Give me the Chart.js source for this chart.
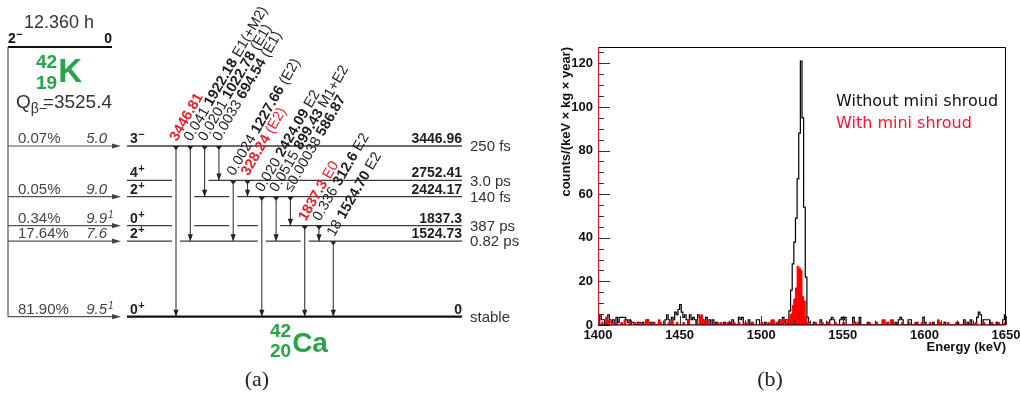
<!DOCTYPE html>
<html>
<head>
<meta charset="utf-8">
<script src="https://cdn.jsdelivr.net/npm/chart.js@4.4.1/dist/chart.umd.min.js"></script>
<style>
  body { margin: 0; width: 1020px; height: 406px; background: #fff; position: relative; overflow: hidden; }
  canvas { position: absolute; }
  #scheme { left: 0; top: 0; }
  #spectrum { left: 540px; top: 30px; }
  .cap { position: absolute; width: 100px; text-align: center; font: 22px "Liberation Serif", serif; color: #222; }
</style>
</head>
<body>
<canvas id="scheme" width="540" height="406"></canvas>
<canvas id="spectrum" width="484" height="340"></canvas>
<div class="cap" style="left:207px; top:366px">(a)</div>
<div class="cap" style="left:720px; top:366px">(b)</div>
<script>
// ---------- 42K -> 42Ca decay scheme ----------
const parentSpin = '2-';
const parentHalfLife = '12.360 h';
const qValue = '3525.4';

const levelEnergy = [0, 1524.73, 1837.3, 2424.17, 2752.41, 3446.96];
const levelLabel = ['0', '1524.73', '1837.3', '2424.17', '2752.41', '3446.96'];
const levelSpin = ['0+', '2+', '0+', '2+', '4+', '3-'];
const levelHalfLife = ['stable', '0.82 ps', '387 ps', '140 fs', '3.0 ps', '250 fs'];

// beta feeding: level index, branching, log ft (with footnote mark)
const feedLevel = [5, 3, 2, 1, 0];
const feedBranch = ['0.07%', '0.05%', '0.34%', '17.64%', '81.90%'];
const feedLogft = ['5.0', '9.0', '9.9', '7.6', '9.5'];
const feedNote = ['', '', '1', '', '1'];

// gamma transitions (level indices)
const gammaFrom = [5, 5, 5, 5, 4, 4, 3, 3, 3, 2, 2, 1];
const gammaTo = [0, 1, 3, 4, 1, 3, 0, 1, 2, 0, 1, 0];
const gammaEnergy = ['3446.81', '1922.18', '1022.78', '694.54', '1227.66', '328.24',
  '2424.09', '899.43', '586.87', '1837.3', '312.6', '1524.70'];
const gammaIntensity = ['', '0.041', '0.0201', '0.0033', '0.0024', '',
  '0.020', '0.0515', '≤0.00038', '', '0.336', '18'];
const gammaMult = ['', 'E1(+M2)', '(E1)', '(E1)', '(E2)', '(E2)',
  'E2', 'M1+E2', '', 'E0', 'E2', 'E2'];
const gammaMarked = [1, 0, 0, 0, 0, 1, 0, 0, 0, 1, 0, 0];

// ---------- 1524.7 keV region spectra (1 keV bins, nonzero bins only) ----------
const E_MIN = 1400, E_MAX = 1650;
const withoutShroudE = [1400, 1401, 1402, 1403, 1405, 1406, 1407, 1408, 1409, 1411, 1412, 1413, 1414, 1415,
  1416, 1417, 1418, 1419, 1420, 1421, 1424, 1425, 1427, 1430, 1431, 1433, 1437, 1441, 1442, 1443, 1445,
  1446, 1447, 1448, 1449, 1450, 1451, 1452, 1453, 1454, 1456, 1457, 1458, 1459, 1461, 1462, 1463, 1464,
  1466, 1468, 1470, 1472, 1477, 1480, 1482, 1486, 1487, 1488, 1492, 1494, 1497, 1498, 1502, 1506, 1510,
  1511, 1513, 1514, 1515, 1516, 1517, 1518, 1519, 1520, 1521, 1522, 1523, 1524, 1525, 1526, 1527, 1528,
  1529, 1532, 1536, 1540, 1542, 1543, 1544, 1548, 1549, 1550, 1551, 1556, 1557, 1560, 1565, 1570, 1577,
  1582, 1584, 1585, 1586, 1590, 1591, 1595, 1599, 1600, 1605, 1612, 1620, 1624, 1626, 1628, 1632, 1633,
  1634, 1636, 1637, 1638, 1639, 1644, 1648, 1649];
const withoutShroudRate = [1.2, 4.7, 2.4, 2.4, 3.5, 4.7, 2.4, 1.2, 2.4, 3.5, 1.2, 3.5, 3.5, 3.5,
  3.5, 2.4, 1.2, 2.4, 1.2, 1.2, 1.2, 1.2, 1.2, 2.4, 1.2, 1.2, 1.2, 2.4, 4.7, 2.4, 3.5,
  2.4, 5.9, 4.7, 7.1, 9.4, 5.9, 3.5, 4.7, 2.4, 4.7, 2.4, 3.5, 2.4, 4.7, 3.5, 2.4, 2.4,
  3.5, 2.4, 2.4, 1.2, 1.2, 1.2, 2.4, 3.5, 2.4, 3.5, 2.4, 1.2, 2.4, 2.4, 1.2, 1.2, 1.2,
  2.4, 3.5, 1.2, 2.4, 2.4, 6.5, 16, 28, 38, 49, 67, 88, 121, 95, 54, 22, 3.5,
  1.2, 1.2, 2.4, 1.2, 2.4, 3.5, 2.4, 2.4, 3.5, 2.4, 3.5, 3.5, 1.2, 3.5, 1.2, 1.2, 1.2,
  1.2, 2.4, 3.5, 2.4, 2.4, 2.4, 1.2, 3.5, 1.2, 1.2, 1.2, 1.2, 2.4, 1.2, 2.4, 3.5, 5.9,
  4.7, 2.4, 2.4, 2.4, 2.4, 1.2, 2.4, 4.7];
const withShroudE = [1400, 1402, 1405, 1406, 1408, 1411, 1414, 1416, 1419, 1422, 1425, 1429, 1430, 1434,
  1437, 1438, 1443, 1445, 1448, 1452, 1455, 1460, 1462, 1463, 1464, 1466, 1468, 1473, 1475, 1479, 1483,
  1486, 1490, 1494, 1500, 1504, 1506, 1507, 1509, 1511, 1513, 1515, 1516, 1517, 1518, 1519, 1520, 1521,
  1522, 1523, 1524, 1525, 1526, 1527, 1528, 1533, 1537, 1541, 1545, 1550, 1556, 1559, 1566, 1574, 1575,
  1577, 1579, 1580, 1581, 1586, 1590, 1594, 1598, 1603, 1608, 1609, 1614, 1619, 1625, 1631, 1636, 1641,
  1645, 1649];
const withShroudRate = [1.2, 1.2, 3.5, 2.4, 1.2, 1.2, 1.2, 2.4, 1.2, 1.2, 1.2, 2.4, 2.4, 1.2,
  2.4, 1.2, 1.2, 2.4, 1.2, 1.2, 2.4, 2.4, 3.5, 4.7, 2.4, 2.4, 1.2, 1.2, 1.2, 1.2, 1.2,
  1.2, 1.2, 1.2, 1.2, 1.2, 2.4, 2.4, 1.2, 2.4, 2.4, 1.2, 2.4, 3.5, 5, 9, 12, 17,
  27, 26, 25, 13, 11, 3.5, 1.2, 1.2, 1.2, 1.2, 1.2, 1.2, 1.2, 1.2, 1.2, 2.4, 2.4,
  1.2, 2.4, 2.4, 1.2, 1.2, 1.2, 1.2, 1.2, 1.2, 2.4, 1.2, 1.2, 1.2, 1.2, 1.2, 1.2, 1.2,
  1.2, 1.2];
const yTicksMajor = [0, 20, 40, 60, 80, 100, 120];

// ---------- drawing constants ----------
const FONT = '"Liberation Sans", Arial, sans-serif';
const RED = '#e8202a';
const GREEN = '#25a548';
const LINE = '#3a3a3a';
const LEVEL_X0 = 127, LEVEL_X1 = 462;
const FEED_X0 = 8, FEED_X1 = 121;
const PARENT_E = 5446;            // height of the parent line on the keV axis
const GAP_HALF = 4;
const LABEL_ANGLE = -60 * Math.PI / 180;
const gammaX = i => 176 + 14.3 * i;

Chart.defaults.font.family = FONT;

function levelPoints(li) {
  const E = levelEnergy[li];
  const cuts = [];
  gammaFrom.forEach((f, g) => {
    if (levelEnergy[f] > E && levelEnergy[gammaTo[g]] < E) cuts.push(gammaX(g));
  });
  const gaps = [];
  cuts.forEach(c => {
    const last = gaps[gaps.length - 1];
    if (last && c - GAP_HALF - last[1] < 8) last[1] = c + GAP_HALF;
    else gaps.push([c - GAP_HALF, c + GAP_HALF]);
  });
  const pts = [{ x: LEVEL_X0, y: E }];
  gaps.forEach(([a, b]) => pts.push({ x: a, y: E }, { x: (a + b) / 2, y: null }, { x: b, y: E }));
  pts.push({ x: LEVEL_X1, y: E });
  return pts;
}

const line = (data, color, width) => ({ data, borderColor: color, borderWidth: width, pointRadius: 0, fill: false });

const schemeDatasets = [];
levelEnergy.forEach((E, li) => {
  schemeDatasets.push(line(levelPoints(li), li === 0 ? '#111' : LINE, li === 0 ? 2.2 : 1.3));
});
gammaFrom.forEach((f, g) => {
  schemeDatasets.push(line([{ x: gammaX(g), y: levelEnergy[f] }, { x: gammaX(g), y: levelEnergy[gammaTo[g]] }], LINE, 1.1));
});
feedLevel.forEach(li => {
  schemeDatasets.push(line([{ x: FEED_X0, y: levelEnergy[li] }, { x: FEED_X1 - 6, y: levelEnergy[li] }], '#555', 1.2));
});
schemeDatasets.push(line([{ x: FEED_X0, y: PARENT_E }, { x: FEED_X0, y: 0 }], '#555', 1.2));
schemeDatasets.push(line([{ x: FEED_X0, y: PARENT_E }, { x: 112, y: PARENT_E }], '#111', 2.2));

function tri(ctx, a, b, c) {
  ctx.beginPath(); ctx.moveTo(a[0], a[1]); ctx.lineTo(b[0], b[1]); ctx.lineTo(c[0], c[1]); ctx.closePath(); ctx.fill();
}
function text(ctx, s, x, y, font, color, align, baseline) {
  ctx.font = font; ctx.fillStyle = color;
  ctx.textAlign = align || 'left'; ctx.textBaseline = baseline || 'alphabetic';
  ctx.fillText(s, x, y);
  return ctx.measureText(s).width;
}
// spin/parity with the sign raised
function spin(ctx, s, x, y, color) {
  const w = text(ctx, s[0], x, y, 'bold 14px ' + FONT, color);
  text(ctx, s[1] === '-' ? '−' : '+', x + w + 0.5, y - 5, 'bold 11px ' + FONT, color);
}
// nuclide symbol with mass and charge numbers
function nuclide(ctx, a, z, sym, x, yTop, ySub, ySym, big) {
  text(ctx, a, x, yTop, 'bold 19px ' + FONT, GREEN);
  const w = text(ctx, z, x, ySub, 'bold 19px ' + FONT, GREEN);
  text(ctx, sym, x + w + 1, ySym, 'bold ' + big + 'px ' + FONT, GREEN);
}

const schemeText = {
  id: 'schemeText',
  afterDatasetsDraw(chart) {
    const ctx = chart.ctx, sx = chart.scales.x, sy = chart.scales.y;
    const X = v => sx.getPixelForValue(v), Y = e => sy.getPixelForValue(e);
    ctx.save();

    // gamma start markers and arrowheads
    ctx.fillStyle = '#222';
    gammaFrom.forEach((f, g) => {
      const x = X(gammaX(g)), y0 = Y(levelEnergy[f]), y1 = Y(levelEnergy[gammaTo[g]]);
      tri(ctx, [x - 3.2, y0], [x + 3.2, y0], [x, y0 + 4]);
      tri(ctx, [x - 2.6, y1 - 7], [x + 2.6, y1 - 7], [x, y1]);
    });
    // feeding arrowheads
    ctx.fillStyle = '#444';
    feedLevel.forEach(li => {
      const y = Y(levelEnergy[li]), x = X(FEED_X1);
      tri(ctx, [x - 9, y - 2.6], [x - 9, y + 2.6], [x, y]);
    });

    // rotated gamma labels: intensity, energy, multipolarity
    gammaEnergy.forEach((en, g) => {
      const col = gammaMarked[g] ? RED : '#1e1e1e';
      const parts = [];
      if (gammaIntensity[g]) parts.push([gammaIntensity[g], '14.5px ' + FONT]);
      parts.push([en, 'bold 14.5px ' + FONT]);
      if (gammaMult[g]) parts.push([gammaMult[g], '14.5px ' + FONT]);
      ctx.save();
      ctx.translate(X(gammaX(g)) + 1, Y(levelEnergy[gammaFrom[g]]) - 4);
      ctx.rotate(LABEL_ANGLE);
      let cx = 0;
      parts.forEach(([s, f]) => {
        text(ctx, s, cx, 0, f, col);
        cx += ctx.measureText(s + ' ').width;
      });
      ctx.restore();
    });

    // level annotations
    levelEnergy.forEach((E, li) => {
      const y = Y(E);
      spin(ctx, levelSpin[li], X(LEVEL_X0) + 3, y - 3, '#1e1e1e');
      text(ctx, levelLabel[li], X(LEVEL_X1), y - 3, 'bold 14px ' + FONT, '#1e1e1e', 'right');
      text(ctx, levelHalfLife[li], X(LEVEL_X1) + 8, y + 1, '15px ' + FONT, '#333', 'left', 'middle');
    });

    // beta branches
    feedLevel.forEach((li, k) => {
      const y = Y(levelEnergy[li]) - 3;
      text(ctx, feedBranch[k], X(18), y, '15px ' + FONT, '#444');
      text(ctx, feedLogft[k], X(107), y, 'italic 15px ' + FONT, '#444', 'right');
      if (feedNote[k]) text(ctx, feedNote[k], X(108), y - 5, 'italic 10px ' + FONT, '#444');
    });

    // parent state
    const yp = Y(PARENT_E);
    spin(ctx, parentSpin, X(FEED_X0), yp - 4, '#111');
    text(ctx, '0', X(112), yp - 4, 'bold 14px ' + FONT, '#111', 'right');
    text(ctx, parentHalfLife, X(24), yp - 19, '18px ' + FONT, '#333');
    nuclide(ctx, '42', '19', 'K', X(36), yp + 21, yp + 42, yp + 35, 33);
    const wq = text(ctx, 'Q', X(16), yp + 61, '19px ' + FONT, '#333');
    text(ctx, 'β−', X(16) + wq, yp + 66, '14px ' + FONT, '#333');
    text(ctx, '=' + qValue, X(112), yp + 61, '19px ' + FONT, '#333', 'right');

    // daughter
    const yg = Y(0);
    nuclide(ctx, '42', '20', 'Ca', X(270), yg + 20, yg + 40, yg + 35, 28);
    ctx.restore();
  }
};

new Chart(document.getElementById('scheme'), {
  type: 'line',
  data: { datasets: schemeDatasets },
  options: {
    responsive: false,
    animation: false,
    layout: { padding: 0 },
    plugins: { legend: { display: false }, tooltip: { enabled: false } },
    scales: {
      x: { type: 'linear', display: false, min: 0, max: 540 },
      y: { type: 'linear', display: false, min: -1803.3, max: 6395.1 }
    }
  },
  plugins: [schemeText]
});

// ---------- spectrum ----------
function histPoints(edges, rates) {
  const full = new Array(E_MAX - E_MIN).fill(0);
  edges.forEach((e, k) => { full[e - E_MIN] = rates[k]; });
  const pts = full.map((v, i) => ({ x: E_MIN + i, y: v }));
  pts.push({ x: E_MAX, y: full[full.length - 1] });
  return pts;
}

const axisFont = { family: FONT, size: 13, weight: 'bold' };

const spectrumFrame = {
  id: 'spectrumFrame',
  afterDatasetsDraw(chart) {
    const { ctx, chartArea: a } = chart;
    const sx = chart.scales.x, sy = chart.scales.y;
    ctx.save();
    ctx.strokeStyle = '#333';
    ctx.lineWidth = 1;
    ctx.beginPath();
    for (let v = 0; v < sy.max; v += 5) {
      const y = Math.round(sy.getPixelForValue(v)) + 0.5;
      ctx.moveTo(a.left, y); ctx.lineTo(a.left + (v % 20 === 0 ? 12 : 6), y);
    }
    for (let e = E_MIN; e <= E_MAX; e += 10) {
      const x = Math.round(sx.getPixelForValue(e)) + 0.5;
      ctx.moveTo(x, a.bottom); ctx.lineTo(x, a.bottom - ((e - E_MIN) % 50 === 0 ? 9 : 4.5));
    }
    ctx.stroke();
    ctx.strokeStyle = '#000';
    ctx.beginPath();
    ctx.moveTo(a.left, a.top + 0.5); ctx.lineTo(a.right - 0.5, a.top + 0.5);
    ctx.lineTo(a.right - 0.5, a.bottom); ctx.lineTo(a.left, a.bottom);
    ctx.stroke();
    ctx.strokeStyle = '#e01020';
    ctx.beginPath();
    ctx.moveTo(a.left + 0.5, a.top); ctx.lineTo(a.left + 0.5, a.bottom);
    ctx.stroke();

    ctx.font = '16px "DejaVu Sans", sans-serif';
    ctx.textBaseline = 'middle';
    ctx.textAlign = 'left';
    ctx.fillStyle = '#111';
    ctx.fillText('Without mini shroud', a.left + 238, a.top + 55);
    ctx.fillStyle = '#ff1030';
    ctx.fillText('With mini shroud', a.left + 238, a.top + 77);
    ctx.restore();
  }
};

new Chart(document.getElementById('spectrum'), {
  type: 'line',
  data: {
    datasets: [
      {
        label: 'With mini shroud',
        data: histPoints(withShroudE, withShroudRate),
        stepped: 'before',
        borderColor: '#ff0000',
        backgroundColor: '#ff0000',
        borderWidth: 1,
        fill: 'origin',
        pointRadius: 0
      },
      {
        label: 'Without mini shroud',
        data: histPoints(withoutShroudE, withoutShroudRate),
        stepped: 'before',
        borderColor: '#000',
        borderWidth: 1.2,
        fill: false,
        pointRadius: 0
      }
    ]
  },
  options: {
    responsive: false,
    animation: false,
    layout: { padding: { left: 15, top: 17, right: 18, bottom: 11 } },
    plugins: { legend: { display: false }, tooltip: { enabled: false } },
    scales: {
      x: {
        type: 'linear', min: E_MIN, max: E_MAX,
        grid: { display: false, drawTicks: false }, border: { display: false },
        ticks: { stepSize: 50, includeBounds: false, font: axisFont, color: '#111', padding: 3, maxRotation: 0, autoSkip: false,
                 callback: v => String(v) },
        title: { display: true, text: 'Energy (keV)', align: 'end', font: axisFont, color: '#111', padding: { top: 0, bottom: 4 } },
        afterFit: s => { s.height = 34; }
      },
      y: {
        type: 'linear', min: 0, max: 127.5,
        grid: { display: false, drawTicks: false }, border: { display: false },
        ticks: { stepSize: 20, includeBounds: false, font: axisFont, color: '#111', padding: 5, callback: v => String(v) },
        afterBuildTicks: s => { s.ticks = yTicksMajor.map(v => ({ value: v })); },
        title: { display: true, text: 'counts/(keV × kg × year)', align: 'end', font: axisFont, color: '#111', padding: { top: 4, bottom: 4 } },
        afterFit: s => { s.width = 43; }
      }
    }
  },
  plugins: [spectrumFrame]
});
</script>
</body>
</html>
